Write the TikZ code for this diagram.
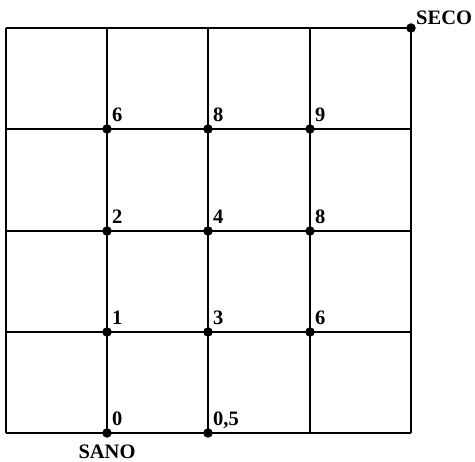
\documentclass[tikz,border=0pt]{standalone}
\usepackage{fontspec}
\setmainfont{Liberation Serif}
\usetikzlibrary{calc}
\begin{document}
\begin{tikzpicture}[x=1pt,y=-1pt,
  gridline/.style={line width=2pt,black},
  dotmark/.style={circle,fill=black,inner sep=0pt,minimum size=9.5pt},
  lblfont/.style={font=\fontsize{20.5}{20.5}\selectfont\bfseries},
  val/.style={anchor=base west,inner sep=0pt,lblfont}]
\useasboundingbox (0,0) rectangle (475,462);
% grid coordinates
\foreach \i/\x in {0/6,1/107,2/208,3/310,4/411}{
  \foreach \j/\y in {0/28,1/129,2/231,3/332,4/433}{
    \coordinate (g\i\j) at (\x,\y);
  }
}
\foreach \k in {0,...,4}{
  \draw[gridline] (g\k0) -- (g\k4);
  \draw[gridline] (g0\k) -- (g4\k);
}
% dots
\foreach \i/\j/\t in {1/1/6,2/1/8,3/1/9,1/2/2,2/2/4,3/2/8,1/3/1,2/3/3,3/3/6,1/4/0,2/4/{0,5}}{
  \node[dotmark] (d\i\j) at (g\i\j) {};
  \node[val] (l\i\j) at ($(g\i\j)+(5,-7)$) {\t};
}
\node[dotmark] (seco) at (g40) {};
\node[val] (secol) at ($(g40)+(5,-3)$) {SECO};
\node[anchor=base,inner sep=0pt,lblfont] (sano) at ($(g14)+(0,26)$) {SANO};
\end{tikzpicture}
\end{document}
